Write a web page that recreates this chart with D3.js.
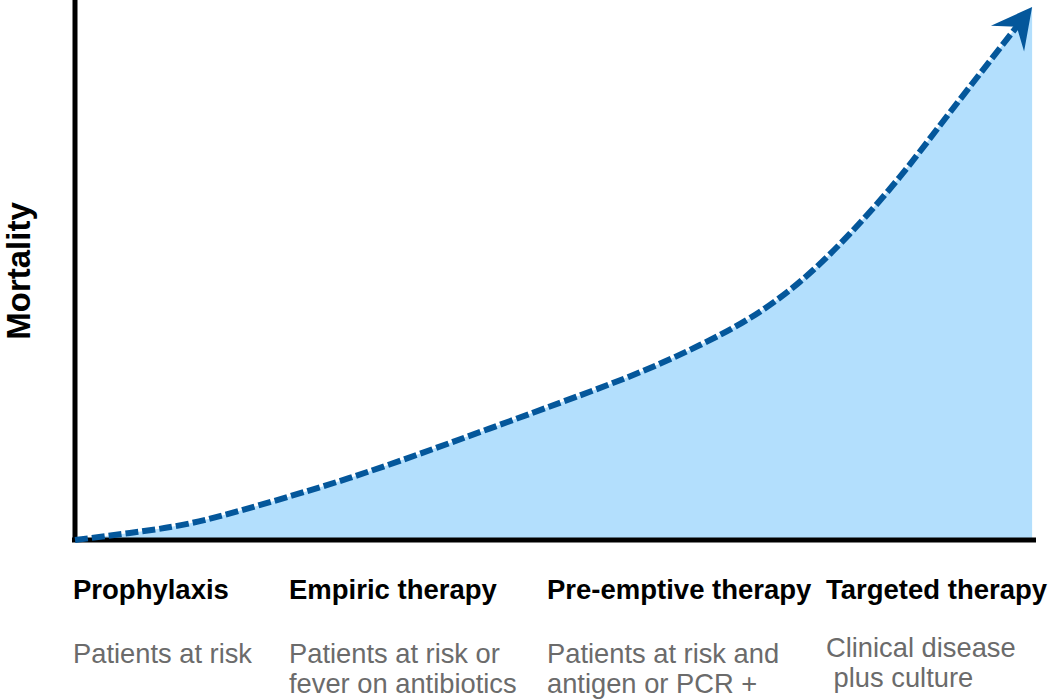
<!DOCTYPE html>
<html>
    <head>
        <title>Mortality by therapy strategy</title>
        <script src="https://d3js.org/d3.v7.min.js"></script>
        <style>
            body { margin: 0; background: #fff; }
        </style>
    </head>
    <body>
    </body>
    <script>
        var w = 1050;
        var h = 700;

        // curve (0-100 on both axes)
        var curveX = [0, 5.7, 12.0, 19.3, 28.6, 39.1, 50.5, 58.9, 65.1, 70.3, 75.5, 80.7, 85.9, 91.1, 99.7];
        var curveY = [0, 1.3, 3.1, 6.5, 11.5, 18.0, 25.4, 31.1, 36.1, 41.1, 47.8, 56.7, 67.2, 79.1, 98.7];

        var categories = ["Prophylaxis", "Empiric therapy", "Pre-emptive therapy", "Targeted therapy"];
        var descriptions = [
            ["Patients at risk"],
            ["Patients at risk or", "fever on antibiotics"],
            ["Patients at risk and", "antigen or PCR +"],
            ["Clinical disease", " plus culture"]
        ];
        var yLabel = "Mortality";

        // layout
        var labelX = [73, 289, 547, 826];
        var descY = [663, 663, 663, 657];

        var svg = d3.select("body")
                    .append("svg")
                    .attr("width", w)
                    .attr("height", h);

        var x = d3.scaleLinear().domain([0, 100]).range([75, 1035]);
        var y = d3.scaleLinear().domain([0, 100]).range([540, 0]);

        var points = curveX.map(function(d, i){ return [x(d), y(curveY[i])]; });

        // fill under the curve
        var area = d3.area()
            .x(function(d){ return d[0]; })
            .y0(y(0))
            .y1(function(d){ return d[1]; })
            .curve(d3.curveNatural);

        svg.append("path")
            .datum(points)
            .attr("d", area)
            .attr("fill", "#b3dffd");

        // axes without ticks
        var xAxis = svg.append("g")
            .attr("transform", "translate(0," + y(0) + ")")
            .call(d3.axisBottom(x).tickValues([]).tickSizeOuter(0));
        var yAxis = svg.append("g")
            .attr("transform", "translate(" + x(0) + ",0)")
            .call(d3.axisLeft(y).tickValues([]).tickSizeOuter(0));
        svg.selectAll(".domain")
            .attr("stroke", "#000")
            .attr("stroke-width", 5);
        xAxis.select(".domain").attr("d", "M72,0H1036");
        yAxis.select(".domain").attr("d", "M0,0V542");

        // arrow direction from the last two points
        var tip = points[points.length - 1];
        var prev = points[points.length - 2];
        var dx = tip[0] - prev[0], dy = tip[1] - prev[1];
        var len = Math.sqrt(dx * dx + dy * dy);
        var ux = dx / len, uy = dy / len;
        var nx = -uy, ny = ux;

        var linePts = points.slice(0, -1);
        linePts.push([tip[0] - 12 * ux, tip[1] - 12 * uy]);

        var line = d3.line().curve(d3.curveNatural);
        svg.append("path")
            .datum(linePts)
            .attr("d", line)
            .attr("fill", "none")
            .attr("stroke", "#04579b")
            .attr("stroke-width", 6)
            .attr("stroke-dasharray", "13,4");

        var bx = tip[0] - 40 * ux, by = tip[1] - 40 * uy;
        var head = [
            tip,
            [bx + 21 * nx, by + 21 * ny],
            [tip[0] - 25 * ux, tip[1] - 25 * uy],
            [bx - 21 * nx, by - 21 * ny]
        ];
        svg.append("path")
            .attr("d", d3.line()(head) + "Z")
            .attr("fill", "#04579b");

        // y axis title
        svg.append("text")
            .text(yLabel)
            .attr("transform", "translate(30,271) rotate(-90)")
            .attr("text-anchor", "middle")
            .attr("font-family", "Liberation Sans, Arial, sans-serif")
            .attr("font-weight", "bold")
            .attr("font-size", 33)
            .attr("fill", "#000");

        // category titles
        svg.selectAll("text.cat")
            .data(categories)
            .enter()
            .append("text")
            .attr("class", "cat")
            .text(function(d){ return d; })
            .attr("x", function(d, i){ return labelX[i]; })
            .attr("y", 599)
            .attr("font-family", "Liberation Sans, Arial, sans-serif")
            .attr("font-weight", "bold")
            .attr("font-size", 27.5)
            .attr("fill", "#000");

        // descriptions
        var desc = svg.selectAll("text.desc")
            .data(descriptions)
            .enter()
            .append("text")
            .attr("class", "desc")
            .attr("font-family", "Liberation Sans, Arial, sans-serif")
            .attr("font-size", 27.3)
            .attr("fill", "#6b6b6b")
            .style("white-space", "pre");

        desc.selectAll("tspan")
            .data(function(d, i){ return d.map(function(t){ return {t: t, i: i}; }); })
            .enter()
            .append("tspan")
            .attr("x", function(d){ return labelX[d.i]; })
            .attr("y", function(d, j){ return descY[d.i] + j * 30; })
            .text(function(d){ return d.t; });
    </script>
</html>
